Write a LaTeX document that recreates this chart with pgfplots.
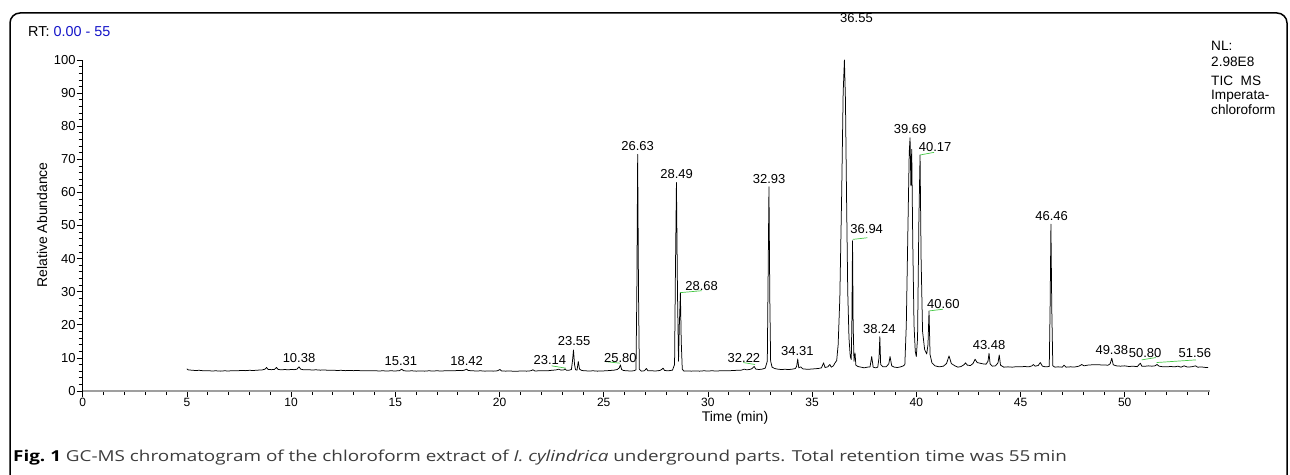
\documentclass[border=0pt]{standalone}
\usepackage{fontspec}
\setmainfont{Liberation Sans}
\newfontfamily\capfont[FakeStretch=1.25]{Open Sans}
\usepackage{pgfplots}
\pgfplotsset{compat=1.18}
\definecolor{rtblue}{RGB}{20,20,200}
\definecolor{intgreen}{RGB}{70,200,70}
\definecolor{capgray}{RGB}{60,60,60}
\newcommand{\lbl}{\fontsize{13}{15}\selectfont}
\newcommand{\nlf}{\fontsize{13.6}{15}\selectfont}
\newcommand{\axl}{\fontsize{14}{16}\selectfont}
\newcommand{\tkl}{\fontsize{13}{14}\selectfont}
\newcommand{\xtkl}{\fontsize{12}{13}\selectfont}
\begin{document}
\begin{tikzpicture}
\useasboundingbox (0pt,0pt) rectangle (1290pt,474pt);
\clip (0pt,0pt) rectangle (1290pt,474pt);
\draw[line width=1.5pt, rounded corners=10pt] (10pt,-30pt) -- (10pt,461pt) -- (1287pt,461pt) -- (1287pt,-30pt);
\node[anchor=west, font=\fontsize{14.4}{16}\selectfont, inner sep=0pt] at (28pt,442pt) {RT:\ \textcolor{rtblue}{0.00 - 55}};
\node[anchor=west, font=\nlf, inner sep=0pt] at (1211pt,428pt) {NL:};
\node[anchor=west, font=\nlf, inner sep=0pt] at (1211pt,412pt) {2.98E8};
\node[anchor=west, font=\nlf, inner sep=0pt] at (1211pt,393pt) {TIC\ \ MS};
\node[anchor=west, font=\nlf, inner sep=0pt] at (1211pt,378pt) {Imperata-};
\node[anchor=west, font=\nlf, inner sep=0pt] at (1211pt,364pt) {chloroform};
\node[anchor=base west, inner sep=0pt, text=capgray] at (13pt,13pt) {\capfont\fontsize{15.1}{17}\selectfont\textbf{\color{black}Fig.~1} GC-MS chromatogram of the chloroform extract of \textit{I. cylindrica} underground parts. Total retention time was 55\,min};
\begin{axis}[
  at={(82.7pt,83pt)}, anchor=south west,
  x=20.84pt, y=3.31pt,
  xmin=0, xmax=54.1, ymin=0, ymax=100,
  clip=false,
  axis x line*=bottom, axis y line*=left,
  x axis line style={-, draw=gray!75, line width=1.4pt},
  y axis line style={-, draw=black, line width=0.8pt},
  xtick={0,5,...,50}, minor xtick={0,1,...,54},
  ytick={0,10,...,100}, minor ytick={0,2,...,100},
  tick align=outside,
  major tick length=6pt, minor tick length=4pt,
  every tick/.style={black, line width=0.7pt},
  /pgf/number format/assume math mode=true,
  xticklabel style={font=\xtkl, inner sep=1pt},
  yticklabel style={font=\tkl, inner sep=1pt},
  xlabel={Time (min)},
  xlabel style={font=\axl, at={(axis cs:31.3,-8.1)}, anchor=center, inner sep=1pt},
  ylabel={Relative Abundance},
  ylabel style={font=\axl, at={(axis cs:-1.95,50.2)}, anchor=center},
]
\addplot[black, line width=0.75pt, line join=round] table {
5.00 6.7
5.05 6.4
5.2 6.3
5.4 6.2
5.6 6.25
5.8 6.1
6.0 6.15
6.2 6.05
6.4 6.1
6.6 6.0
6.8 6.1
7.0 6.05
7.2 6.15
7.4 6.1
7.6 6.2
7.8 6.15
8.0 6.25
8.2 6.2
8.4 6.3
8.6 6.35
8.75 6.6
8.82 7.1
8.9 6.5
9.05 6.45
9.2 6.5
9.3 7.1
9.38 6.5
9.55 6.4
9.7 6.5
9.85 6.4
10.0 6.5
10.15 6.45
10.28 6.6
10.38 7.3
10.46 6.6
10.6 6.4
10.8 6.45
11.0 6.35
11.2 6.4
11.4 6.3
11.6 6.35
11.8 6.25
12.0 6.3
12.2 6.2
12.4 6.25
12.6 6.15
12.8 6.2
13.0 6.15
13.2 6.2
13.4 6.1
13.6 6.15
13.8 6.1
14.0 6.15
14.2 6.05
14.4 6.1
14.6 6.05
14.8 6.1
15.0 6.05
15.2 6.15
15.31 6.6
15.4 6.1
15.6 6.05
15.8 6.1
16.0 6.0
16.2 6.05
16.4 6.0
16.6 6.1
16.8 6.05
17.0 6.1
17.2 6.05
17.4 6.1
17.6 6.15
17.8 6.1
18.0 6.2
18.2 6.15
18.32 6.3
18.42 6.6
18.5 6.2
18.7 6.1
18.9 6.05
19.1 6.1
19.3 6.0
19.5 6.05
19.7 6.0
19.9 6.1
20.02 6.5
20.1 6.05
20.3 6.0
20.5 6.05
20.7 5.95
20.9 6.0
21.1 6.05
21.3 6.0
21.5 6.1
21.6 6.4
21.7 6.05
21.9 6.1
22.1 6.15
22.3 6.1
22.5 6.25
22.7 6.35
22.85 6.6
22.95 6.3
23.1 6.4
23.14 6.7
23.2 6.3
23.35 6.3
23.45 6.5
23.50 9
23.55 12.4
23.60 8
23.65 6.4
23.72 6.3
23.78 8.9
23.84 6.6
23.95 6.2
24.1 6.1
24.3 6.05
24.5 6.1
24.7 6.0
24.9 6.05
25.1 6.1
25.3 6.2
25.5 6.3
25.65 6.5
25.75 7.0
25.80 7.9
25.86 6.5
25.95 6.2
26.1 6.1
26.3 6.05
26.45 6.1
26.55 6.4
26.59 30
26.63 71.5
26.67 30
26.71 6.6
26.8 6.0
26.95 6.1
27.05 6.8
27.12 6.1
27.3 6.1
27.5 6.05
27.7 6.2
27.8 6.6
27.85 6.9
27.92 6.2
28.1 6.1
28.3 6.3
28.40 8
28.44 35
28.49 63
28.54 30
28.59 9
28.63 20
28.68 29.7
28.72 15
28.77 6.6
28.85 6.0
29.0 6.05
29.2 6.0
29.4 6.05
29.6 6.0
29.8 6.1
30.0 6.05
30.2 6.1
30.4 6.05
30.6 6.1
30.8 6.15
31.0 6.1
31.2 6.2
31.4 6.25
31.6 6.3
31.75 6.6
31.85 6.4
32.0 6.5
32.1 6.7
32.22 7.4
32.3 6.6
32.45 6.5
32.6 6.6
32.75 6.9
32.85 9
32.89 35
32.93 61.7
32.97 28
33.01 9
33.08 7.2
33.2 6.8
33.35 6.6
33.5 6.5
33.7 6.55
33.9 6.5
34.05 6.6
34.2 6.8
34.26 7.5
34.31 9.7
34.36 7.0
34.45 7.3
34.55 6.7
34.7 6.6
34.9 6.6
35.1 6.7
35.3 6.8
35.45 7.0
35.55 8.5
35.62 7.1
35.75 7.3
35.85 8.0
35.92 7.2
36.02 7.6
36.1 8.5
36.18 9.2
36.25 14
36.33 28
36.42 60
36.49 90
36.55 100
36.60 88
36.65 60
36.71 30
36.77 16
36.83 10.5
36.88 9.5
36.91 22
36.94 45.4
36.97 20
37.01 9
37.06 11.5
37.1 7.8
37.2 7.4
37.35 7.2
37.5 7.0
37.65 7.2
37.78 7.3
37.86 10.4
37.93 7.2
38.05 7.0
38.15 7.2
38.21 10
38.25 16.4
38.29 8
38.4 7.3
38.55 7.3
38.68 8.2
38.74 10.4
38.82 7.6
38.95 7.2
39.1 7.1
39.25 7.3
39.38 7.6
39.45 8
39.52 20
39.60 50
39.66 72
39.70 76.5
39.74 62
39.78 73
39.83 45
39.89 20
39.95 12
40.00 10.4
40.06 16
40.12 50
40.18 71.3
40.23 40
40.30 18
40.40 12.5
40.50 11.2
40.56 14
40.61 24.2
40.66 11
40.75 8.5
40.9 7.6
41.1 7.3
41.3 7.5
41.45 8.3
41.57 10.6
41.68 8.3
41.85 7.6
42.0 7.2
42.15 7.4
42.3 8.0
42.36 8.5
42.45 7.8
42.6 7.7
42.72 8.3
42.82 9.6
42.92 8.6
43.05 8.4
43.2 8.2
43.35 8.1
43.44 9
43.49 11.4
43.54 8.2
43.65 7.5
43.8 7.6
43.92 8.5
43.98 10.9
44.04 7.8
44.2 7.2
44.4 7.3
44.6 7.2
44.8 7.35
45.0 7.3
45.2 7.4
45.4 7.3
45.55 7.6
45.62 8.0
45.7 7.5
45.85 7.7
45.95 8.6
46.05 7.5
46.2 7.3
46.38 7.4
46.42 25
46.46 50.4
46.50 25
46.55 7.6
46.65 7.2
46.8 7.3
47.0 7.2
47.09 7.8
47.18 7.2
47.4 7.3
47.6 7.25
47.8 7.5
47.94 8.0
48.05 7.6
48.2 7.8
48.4 7.9
48.6 7.95
48.8 7.9
49.0 7.85
49.2 7.8
49.3 8.2
49.38 9.9
49.45 7.9
49.6 7.6
49.8 7.5
50.0 7.6
50.2 7.4
50.4 7.5
50.6 7.35
50.75 8.4
50.82 7.5
51.0 7.5
51.15 7.6
51.3 7.5
51.45 7.6
51.55 8.0
51.65 7.5
51.8 7.35
52.0 7.3
52.2 7.4
52.4 7.3
52.55 7.5
52.7 7.2
52.85 7.6
53.0 7.25
53.2 7.3
53.4 7.6
53.5 7.2
53.7 7.25
53.9 7.1
54.0 7.1
};
% integration baselines (green)
\addplot[intgreen, line width=0.7pt] coordinates {(22.5,7.6) (23.18,6.9)};
\addplot[intgreen, line width=0.7pt] coordinates {(25.06,8.9) (25.78,8.4)};
\addplot[intgreen, line width=0.7pt] coordinates {(28.66,29.7) (29.70,30.3)};
\addplot[intgreen, line width=0.7pt] coordinates {(31.70,8.6) (32.26,8.0)};
\addplot[intgreen, line width=0.7pt] coordinates {(36.95,45.8) (37.65,46.3)};
\addplot[intgreen, line width=0.7pt] coordinates {(40.18,71.3) (40.85,72.1)};
\addplot[intgreen, line width=0.7pt] coordinates {(40.63,24.2) (41.27,24.7)};
\addplot[intgreen, line width=0.7pt] coordinates {(50.81,9.4) (51.50,10.1)};
\addplot[intgreen, line width=0.7pt] coordinates {(51.53,8.6) (53.42,9.4)};
% peak labels
\begin{scope}[every node/.style={font=\lbl, inner sep=0pt}]
\node at (axis cs:10.38,10.1) {10.38};
\node at (axis cs:15.27,9.1) {15.31};
\node at (axis cs:18.42,9.1) {18.42};
\node at (axis cs:22.42,9.4) {23.14};
\node at (axis cs:23.58,15.2) {23.55};
\node at (axis cs:25.80,10.1) {25.80};
\node at (axis cs:26.63,74.1) {26.63};
\node at (axis cs:28.50,65.5) {28.49};
\node at (axis cs:29.70,31.8) {28.68};
\node at (axis cs:31.73,10.1) {32.22};
\node at (axis cs:32.94,64.1) {32.93};
\node at (axis cs:34.29,12.1) {34.31};
\node at (axis cs:37.13,112.7) {36.55};
\node at (axis cs:37.62,48.8) {36.94};
\node at (axis cs:38.23,18.7) {38.24};
\node at (axis cs:39.70,79.1) {39.69};
\node at (axis cs:40.90,73.7) {40.17};
\node at (axis cs:41.30,26.3) {40.60};
\node at (axis cs:43.49,13.9) {43.48};
\node at (axis cs:46.49,53.0) {46.46};
\node at (axis cs:49.38,12.4) {49.38};
\node at (axis cs:50.98,11.4) {50.80};
\node at (axis cs:53.37,11.4) {51.56};
\end{scope}
\end{axis}
\end{tikzpicture}
\end{document}
